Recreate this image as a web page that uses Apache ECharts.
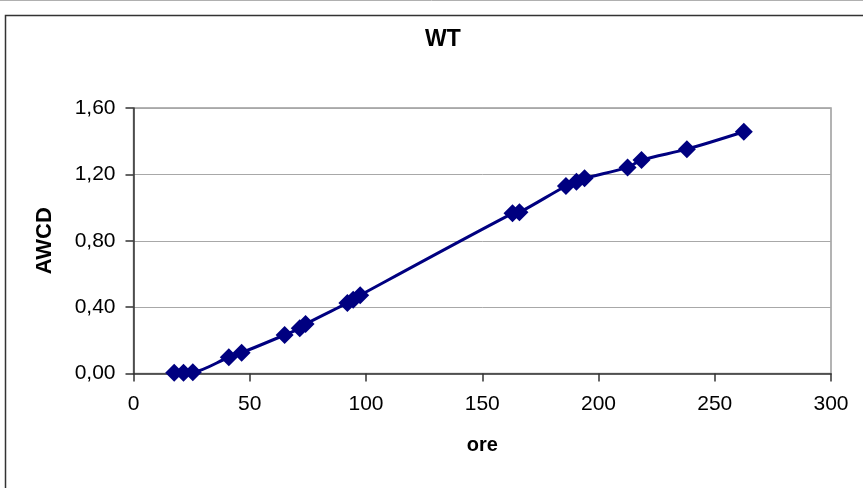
<!DOCTYPE html>
<html>
<head>
<meta charset="utf-8">
<script src="https://cdn.jsdelivr.net/npm/echarts@6/dist/echarts.min.js"></script>
<style>
  html, body { margin: 0; padding: 0; background: #ffffff; }
  #chart { width: 863px; height: 488px; }
</style>
</head>
<body>
<div id="chart"></div>
<script>
// Hours of incubation (ore) and average well colour development (AWCD)
const hours = [17.5, 21.5, 25.5, 41, 46.5, 65, 71.5, 74, 92, 94.5, 97.5, 163, 166, 186, 190.5, 194, 212.5, 218.5, 238, 262.5];
const awcd  = [0.005, 0.005, 0.007, 0.098, 0.125, 0.232, 0.272, 0.298, 0.425, 0.445, 0.472, 0.965, 0.971, 1.13, 1.155, 1.176, 1.242, 1.286, 1.352, 1.457];

const seriesName = 'WT';
const xName = 'ore';
const yName = 'AWCD';

const points = hours.map((h, i) => [h, awcd[i]]);

const chart = echarts.init(document.getElementById('chart'), null, { renderer: 'canvas' });
const font = 'Liberation Sans, Arial, sans-serif';

chart.setOption({
  animation: false,
  backgroundColor: '#ffffff',
  title: {
    text: seriesName,
    left: 438,
    top: 23,
    textAlign: 'center',
    textStyle: { fontFamily: font, fontSize: 23, fontWeight: 'bold', color: '#000000' }
  },
  graphic: [
    { type: 'rect', shape: { x: 5.5, y: 15.5, width: 900, height: 600 },
      style: { fill: null, stroke: '#333333', lineWidth: 1.5 }, silent: true, z: -1 },
    { type: 'line', shape: { x1: 0, y1: 0.5, x2: 863, y2: 0.5 },
      style: { stroke: '#b0b0b0', lineWidth: 1 }, silent: true }
  ],
  grid: {
    left: 133.5, right: 32, top: 108, bottom: 114.5,
    show: true, borderColor: '#9a9a9a', borderWidth: 1.5, backgroundColor: '#ffffff'
  },
  xAxis: {
    type: 'value',
    min: 0, max: 300, interval: 50,
    name: xName,
    nameLocation: 'middle',
    nameGap: 62,
    nameTextStyle: { fontFamily: font, fontSize: 20, fontWeight: 'bold', color: '#000000' },
    axisLine: { show: true, lineStyle: { color: '#333333', width: 1.5 } },
    axisTick: { show: true, length: 8, lineStyle: { color: '#333333', width: 1.5 } },
    axisLabel: { margin: 20, fontFamily: font, fontSize: 21, color: '#000000' },
    splitLine: { show: false }
  },
  yAxis: {
    type: 'value',
    min: 0, max: 1.6, interval: 0.4,
    name: yName,
    nameLocation: 'middle',
    nameGap: 78,
    nameTextStyle: { fontFamily: font, fontSize: 22, fontWeight: 'bold', color: '#000000' },
    axisLine: { show: true, lineStyle: { color: '#333333', width: 1.5 } },
    axisTick: { show: true, length: 8, lineStyle: { color: '#333333', width: 1.5 } },
    axisLabel: {
      margin: 18, fontFamily: font, fontSize: 21, color: '#000000',
      formatter: v => v.toFixed(2).replace('.', ',')
    },
    splitLine: { show: true, lineStyle: { color: '#a8a8a8', width: 1 } }
  },
  series: [{
    name: seriesName,
    type: 'line',
    data: points,
    smooth: 0.3,
    symbol: 'diamond',
    symbolSize: 18,
    showAllSymbol: true,
    lineStyle: { color: '#000080', width: 3 },
    itemStyle: { color: '#000080', borderWidth: 0 }
  }]
});
</script>
</body>
</html>
